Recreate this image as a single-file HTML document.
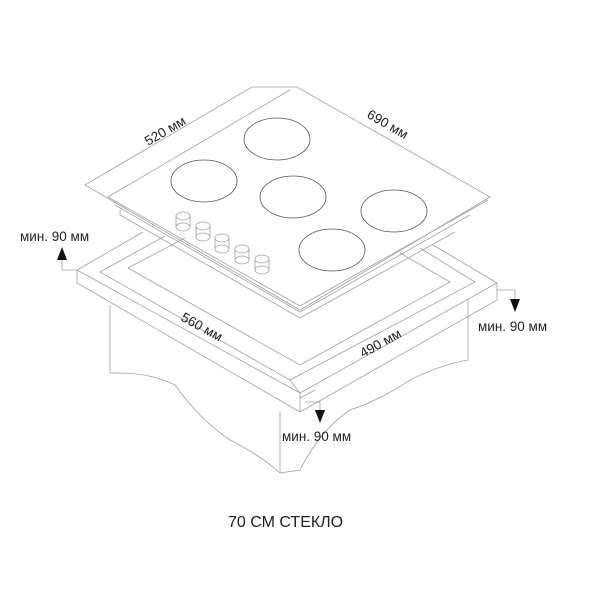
<!DOCTYPE html>
<html><head><meta charset="utf-8"><style>
html,body{margin:0;padding:0;background:#fff;width:600px;height:600px;overflow:hidden}
svg{display:block}
text{font-family:"Liberation Sans",sans-serif;fill:#222}
</style></head><body>
<svg width="600" height="600" viewBox="0 0 600 600" xmlns="http://www.w3.org/2000/svg">
<g fill="none" stroke="#a0a0a0" stroke-width="0.8">
<path d="M110 305 L110 373 Q150 372 175 385 Q200 420 230 440 Q260 455 280 473 L280 412"/>
<path d="M468 300 L468 360 Q440 365 410 380 Q380 400 350 410 Q320 430 300 470 L280 473"/>
<path d="M77 270 L300 393 L497 283"/>
<path d="M77 270 L77 283 L300 412 L497 300 L497 283"/>
<path d="M300 393 L300 412"/>
<path d="M77 270 L143 232"/>
<path d="M497 283 L433 245"/>
<path d="M100 272 L165 236"/>
<path d="M128 268 L185 238"/>
<path d="M100 272 L290 380"/>
<path d="M128 268 L300 365"/>
<path d="M290 380 L475 282 L420 248"/>
<path d="M300 365 L450 282 L400 253"/>
<path d="M300 393 L290 380"/>
<path d="M300 398 L315 390"/>
<path d="M85 185 L252 87 L297 87 L490 197 L300 310 Z"/>
<path d="M108 197 L300 306 L488 200"/>
<path d="M115 205 L300 312 L470 215"/>
<path d="M120 210 L120 215 L300 318 L455 232"/>
<path d="M108 197 L290 90"/>
<g stroke="#555">
<ellipse cx="277" cy="139" rx="33" ry="21"/>
<ellipse cx="204" cy="181" rx="33" ry="21"/>
<ellipse cx="293" cy="197" rx="33" ry="21"/>
<ellipse cx="394" cy="211" rx="33" ry="21"/>
<ellipse cx="332" cy="250" rx="33" ry="21"/>
</g>
<g>
<ellipse cx="183" cy="216" rx="7" ry="4"/><path d="M176 216 L176 227 M190 216 L190 227"/><ellipse cx="183" cy="227" rx="7" ry="4"/>
<ellipse cx="203" cy="226" rx="7" ry="4"/><path d="M196 226 L196 237 M210 226 L210 237"/><ellipse cx="203" cy="237" rx="7" ry="4"/>
<ellipse cx="222" cy="238" rx="7" ry="4"/><path d="M215 238 L215 249 M229 238 L229 249"/><ellipse cx="222" cy="249" rx="7" ry="4"/>
<ellipse cx="242" cy="249" rx="7" ry="4"/><path d="M235 249 L235 260 M249 249 L249 260"/><ellipse cx="242" cy="260" rx="7" ry="4"/>
<ellipse cx="262" cy="259" rx="7" ry="4"/><path d="M255 259 L255 270 M269 259 L269 270"/><ellipse cx="262" cy="270" rx="7" ry="4"/>
</g>
<path d="M77 270 L62 270 L62 258"/>
<path d="M497 290 L515 290 L515 300"/>
<path d="M305 402 L320 402 L320 410"/>
</g>
<g fill="#111">
<polygon points="62,247 57,260 67,260"/>
<polygon points="515,312 510,299 520,299"/>
<polygon points="320,423 315,410 325,410"/>
</g>
<text x="20" y="241" font-size="13.5">мин. 90 мм</text>
<text x="478" y="331" font-size="13.5">мин. 90 мм</text>
<text x="282" y="441" font-size="13.5">мин. 90 мм</text>
<text transform="translate(148,146) rotate(-30)" font-size="13.5">520 мм</text>
<text transform="translate(366,117) rotate(30)" font-size="13.5">690 мм</text>
<text transform="translate(180,320) rotate(29)" font-size="13.5">560 мм</text>
<text transform="translate(363,358) rotate(-29)" font-size="13.5">490 мм</text>
<text x="228" y="527" font-size="16">70 СМ СТЕКЛО</text>
</svg>
</body></html>
